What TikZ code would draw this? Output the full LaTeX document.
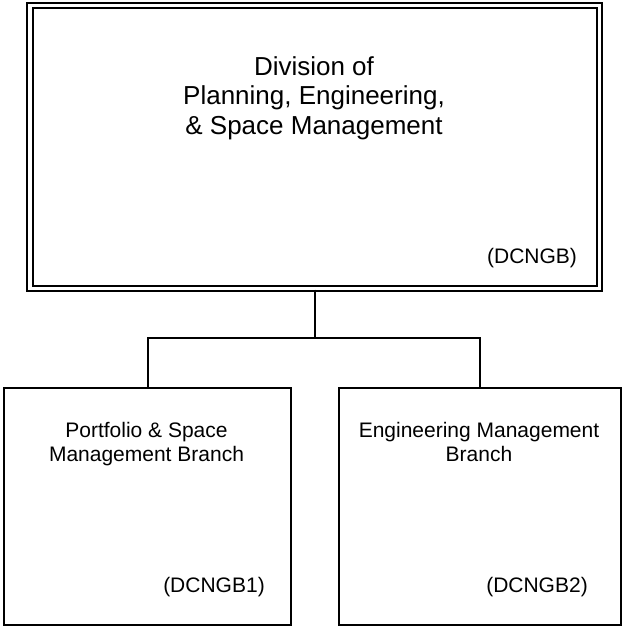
\documentclass[tikz,border=0pt]{standalone}
\usepackage{fontspec}
\setmainfont{Liberation Sans}
\begin{document}
\begin{tikzpicture}[x=1pt,y=-1pt,
  boxline/.style={draw=black,line width=2.1pt},
  conn/.style={draw=black,line width=2pt},
  bigtxt/.style={font=\fontsize{26}{29.5}\selectfont,align=center,inner sep=0pt},
  smalltxt/.style={font=\fontsize{21}{24.5}\selectfont,align=center,inner sep=0pt},
  codetxt/.style={font=\fontsize{21}{24.5}\selectfont,inner sep=0pt,anchor=base}]
\useasboundingbox (0,0) rectangle (625,628);
% top double box
\node[boxline,double,double distance=3.4pt,minimum width=569.5pt,minimum height=283pt,inner sep=0pt,anchor=north west] (top) at (29,4.5) {};
\node[bigtxt,anchor=north] (toptxt) at (314,56.4) {Division of\\Planning, Engineering,\\\& Space Management};
\node[codetxt] (topcode) at (532,263) {(DCNGB)};
% bottom boxes
\node[boxline,minimum width=287pt,minimum height=237pt,inner sep=0pt,anchor=north west] (left) at (3,387) {};
\node[boxline,minimum width=282pt,minimum height=237pt,inner sep=0pt,anchor=north west] (right) at (338,387) {};
\node[smalltxt,anchor=north] (lefttxt) at (146.5,422) {Portfolio \& Space\\Management Branch};
\node[smalltxt,anchor=north] (righttxt) at (479,422) {Engineering Management\\Branch};
\node[codetxt] (leftcode) at (214,592) {(DCNGB1)};
\node[codetxt] (rightcode) at (537,592) {(DCNGB2)};
% connectors
\coordinate (junc) at (top.south |- 0,338);
\draw[conn] (top.south) -- (junc);
\draw[conn] (left.north) |- (junc) -| (right.north);
\end{tikzpicture}
\end{document}
